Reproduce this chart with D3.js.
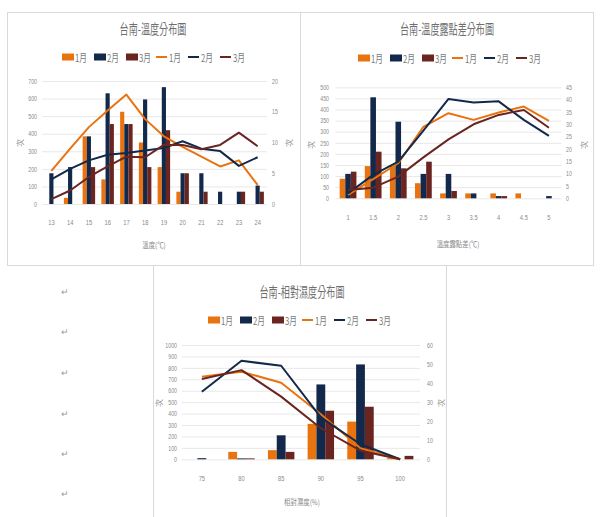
<!DOCTYPE html>
<html>
<head>
<meta charset="utf-8">
<script src="https://cdn.jsdelivr.net/npm/d3@7"></script>
<style>
  html, body { margin: 0; padding: 0; background: #fff; }
  svg { display: block; font-family: "Noto Sans CJK TC", "Noto Sans", sans-serif; }
</style>
</head>
<body>
<svg id="page" width="605" height="517"></svg>
<script>
// 台南 溫度 distribution
const tempCats = ["13","14","15","16","17","18","19","20","21","22","23","24"];
const tempBarJan = [0, 35, 385, 140, 525, 350, 210, 70, 0, 0, 0, 0];
const tempBarFeb = [175, 210, 385, 630, 455, 595, 665, 175, 175, 70, 70, 105];
const tempBarMar = [0, 0, 210, 455, 455, 210, 420, 175, 70, 0, 70, 70];
const tempLineJan = [5.4, 9.0, 12.5, 15.2, 17.8, 13.8, 11.0, 9.3, 7.7, 6.1, 7.1, 3.1];
const tempLineFeb = [4.0, 5.7, 7.1, 8.0, 8.3, 8.7, 9.1, 10.2, 9.0, 8.6, 6.2, 7.6];
const tempLineMar = [0.8, 2.2, 4.4, 6.1, 7.7, 7.6, 9.6, 9.6, 8.9, 9.6, 11.6, 9.4];
const tempLeftTicks = [0, 100, 200, 300, 400, 500, 600, 700];
const tempRightTicks = [0, 5, 10, 15, 20];

// 溫度露點差 distribution
const dewCats = ["1","1.5","2","2.5","3","3.5","4","4.5","5"];
const dewBarJan = [88, 145, 145, 68, 22, 22, 22, 22, 0];
const dewBarFeb = [110, 455, 345, 110, 110, 22, 10, 0, 10];
const dewBarMar = [120, 210, 135, 165, 33, 0, 10, 0, 0];
const dewLineJan = [1.4, 7.8, 14.2, 29.0, 34.5, 31.8, 34.8, 37.2, 31.4];
const dewLineFeb = [2.0, 9.5, 14.9, 27.4, 40.3, 38.8, 39.3, 31.8, 25.3];
const dewLineMar = [3.4, 4.3, 8.8, 16.6, 23.9, 30.0, 33.8, 35.8, 28.6];
const dewLeftTicks = [0, 50, 100, 150, 200, 250, 300, 350, 400, 450, 500];
const dewRightTicks = [0, 5, 10, 15, 20, 25, 30, 35, 40, 45];

// 相對濕度 distribution
const rhCats = ["75","80","85","90","95","100"];
const rhBarJan = [0, 65, 80, 310, 330, 10];
const rhBarFeb = [10, 8, 210, 655, 830, 0];
const rhBarMar = [0, 8, 65, 425, 460, 30];
const rhLineJan = [43.4, 46.0, 40.2, 23.6, 5.8, 0];
const rhLineFeb = [35.5, 51.7, 49.1, 22.0, 7.9, 0];
const rhLineMar = [42.1, 46.8, 32.9, 16.3, 4.5, 0];
const rhLeftTicks = [0, 100, 200, 300, 400, 500, 600, 700, 800, 900, 1000];
const rhRightTicks = [0, 10, 20, 30, 40, 50, 60];

const seriesNames = ["1月", "2月", "3月"];
const colors = ["#E8730F", "#13294B", "#6A2521"];

const svg = d3.select("#page");
const textGray = "#8a8a8a";
const plainNum = d3.format("d");

function label(g, x, y, str, o = {}) {
  const t = g.append("text")
    .attr("transform", `translate(${x},${y}) rotate(${o.rotate || 0}) scale(${o.sx || 0.75},1)`)
    .attr("text-anchor", o.anchor || "middle")
    .attr("dominant-baseline", "central")
    .attr("font-size", o.size || 8)
    .attr("fill", o.fill || textGray)
    .text(str);
  return t;
}

function drawChart(cfg) {
  const g = svg.append("g");
  // chart frame
  g.append("rect")
    .attr("x", cfg.box[0] + 0.5).attr("y", cfg.box[1] + 0.5)
    .attr("width", cfg.box[2] - cfg.box[0]).attr("height", cfg.box[3] - cfg.box[1])
    .attr("fill", "#fff").attr("stroke", "#d9d9d9").attr("stroke-width", 1);

  const p = cfg.plot;
  const yL = d3.scaleLinear().domain([0, d3.max(cfg.leftTicks)]).range([p.y1, p.y0]);
  const yR = d3.scaleLinear().domain([0, d3.max(cfg.rightTicks)]).range([p.y1, p.y0]);
  const x0 = d3.scaleBand().domain(cfg.cats).range([p.x0, p.x1])
    .paddingInner(1 / 3).paddingOuter(1 / 6);
  const x1 = d3.scaleBand().domain(d3.range(3)).range([0, x0.bandwidth()]);

  // gridlines
  const grid = g.append("g")
    .attr("transform", `translate(${p.x0},0)`)
    .call(d3.axisLeft(yL).tickValues(cfg.leftTicks).tickSize(-(p.x1 - p.x0)).tickFormat(""));
  grid.select(".domain").remove();
  grid.selectAll(".tick line").attr("stroke", "#e8e8e8").attr("stroke-width", 1);

  // left axis labels
  const axL = g.append("g")
    .attr("transform", `translate(${cfg.leftLabelX},0)`)
    .call(d3.axisLeft(yL).tickValues(cfg.leftTicks).tickFormat(plainNum).tickSize(0).tickPadding(0));
  axL.select(".domain").remove();
  axL.selectAll(".tick text")
    .attr("font-size", 7).attr("fill", textGray).attr("font-family", null)
    .attr("x", 0).attr("dy", "0.32em").attr("transform", "scale(0.75,1)");

  // right axis labels
  const axR = g.append("g")
    .attr("transform", `translate(${cfg.rightLabelX},0)`)
    .call(d3.axisRight(yR).tickValues(cfg.rightTicks).tickFormat(plainNum).tickSize(0).tickPadding(0));
  axR.select(".domain").remove();
  axR.selectAll(".tick text")
    .attr("font-size", 7).attr("fill", textGray).attr("font-family", null)
    .attr("x", 0).attr("dy", "0.32em").attr("transform", "scale(0.75,1)");

  // category labels
  const axB = g.append("g")
    .attr("transform", `translate(0,${cfg.xLabelY})`)
    .call(d3.axisBottom(x0).tickSize(0).tickPadding(0));
  axB.select(".domain").remove();
  axB.selectAll(".tick text")
    .attr("font-size", 8).attr("fill", textGray).attr("font-family", null)
    .attr("y", 0).attr("dy", "0.32em").attr("transform", "scale(0.72,1)");

  // clustered bars
  cfg.bars.forEach((vals, si) => {
    g.append("g").selectAll("rect")
      .data(vals)
      .join("rect")
      .attr("x", (d, i) => x0(cfg.cats[i]) + x1(si))
      .attr("width", x1.bandwidth())
      .attr("y", d => yL(d))
      .attr("height", d => yL(0) - yL(d))
      .attr("fill", colors[si]);
  });

  // lines on the secondary axis
  const line = d3.line()
    .x((d, i) => x0(cfg.cats[i]) + x0.bandwidth() / 2)
    .y(d => yR(d));
  cfg.lines.forEach((vals, si) => {
    g.append("path")
      .datum(vals)
      .attr("d", line)
      .attr("fill", "none")
      .attr("stroke", colors[si])
      .attr("stroke-width", 2)
      .attr("stroke-linejoin", "round");
  });

  // title
  label(g, cfg.title[0], cfg.title[1], cfg.title[2], { size: 14, sx: 0.65, fill: "#6f6f6f" });

  // legend
  const lg = g.append("g").attr("transform", `translate(${cfg.legend[0]},${cfg.legend[1]})`);
  const offs = [0, 32, 64, 94, 126, 158];
  offs.forEach((ox, k) => {
    const si = k % 3;
    if (k < 3) {
      lg.append("rect").attr("x", ox).attr("y", -3.5).attr("width", 12).attr("height", 7)
        .attr("fill", colors[si]);
    } else {
      lg.append("line").attr("x1", ox).attr("x2", ox + 11).attr("y1", 0).attr("y2", 0)
        .attr("stroke", colors[si]).attr("stroke-width", 2);
    }
    label(lg, ox + 13, 0, seriesNames[si], { size: 11, sx: 0.7, anchor: "start", fill: "#777" });
  });

  // axis titles
  label(g, cfg.xTitle[0], cfg.xTitle[1], cfg.xTitle[2], { size: 8, sx: 0.8 });
  label(g, cfg.yTitleL[0], cfg.yTitleL[1], "次", { size: 8, sx: 1, rotate: -90 });
  label(g, cfg.yTitleR[0], cfg.yTitleR[1], "次", { size: 8, sx: 1, rotate: -90 });
}

drawChart({
  box: [7, 12, 300, 265],
  plot: { x0: 42, x1: 267, y0: 81, y1: 204 },
  cats: tempCats,
  leftTicks: tempLeftTicks, rightTicks: tempRightTicks,
  bars: [tempBarJan, tempBarFeb, tempBarMar],
  lines: [tempLineJan, tempLineFeb, tempLineMar],
  leftLabelX: 37, rightLabelX: 272, xLabelY: 222,
  title: [153, 27, "台南-溫度分布圖"],
  legend: [62, 57],
  xTitle: [154, 245, "溫度(℃)"],
  yTitleL: [19, 143], yTitleR: [288, 143]
});

drawChart({
  box: [300, 12, 593, 265],
  plot: { x0: 335.5, x1: 561.5, y0: 87.3, y1: 198.3 },
  cats: dewCats,
  leftTicks: dewLeftTicks, rightTicks: dewRightTicks,
  bars: [dewBarJan, dewBarFeb, dewBarMar],
  lines: [dewLineJan, dewLineFeb, dewLineMar],
  leftLabelX: 329, rightLabelX: 566, xLabelY: 217,
  title: [447, 27, "台南-溫度露點差分布圖"],
  legend: [358, 58],
  xTitle: [458, 244, "溫度露點差(℃)"],
  yTitleL: [310, 145], yTitleR: [583, 145]
});

drawChart({
  box: [153, 265, 446, 530],
  plot: { x0: 182, x1: 420, y0: 345, y1: 459.3 },
  cats: rhCats,
  leftTicks: rhLeftTicks, rightTicks: rhRightTicks,
  bars: [rhBarJan, rhBarFeb, rhBarMar],
  lines: [rhLineJan, rhLineFeb, rhLineMar],
  leftLabelX: 177, rightLabelX: 427, xLabelY: 478,
  title: [302, 290, "台南-相對濕度分布圖"],
  legend: [208, 320],
  xTitle: [302, 502, "相對濕度(%)"],
  yTitleL: [158, 403], yTitleR: [440, 403]
});

// paragraph marks of the surrounding document
[291, 331, 372, 413, 453, 493].forEach(y => {
  label(svg, 65, y, "↵", { size: 9, sx: 1, fill: "#999" });
});
</script>
</body>
</html>
